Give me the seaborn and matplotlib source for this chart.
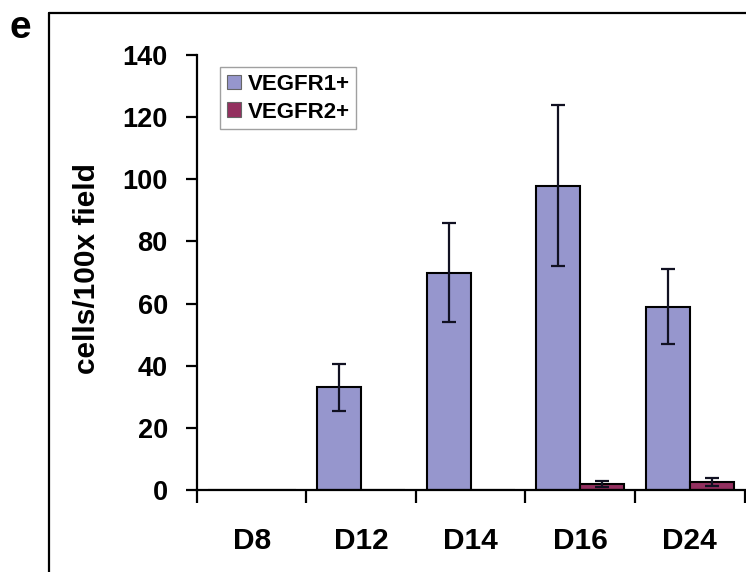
import pandas as pd
import matplotlib.pyplot as plt
import seaborn as sns
from matplotlib.lines import Line2D
from matplotlib.patches import Patch

# 数据
days = ['D8', 'D12', 'D14', 'D16', 'D24']
vegfr1 = [0, 33, 70, 98, 59]
vegfr1_err = [0, 7.7, 16, 26, 12]
vegfr2 = [0, 0, 0, 2.0, 2.7]
vegfr2_err = [0, 0, 0, 0.9, 1.3]
series = ['VEGFR1+', 'VEGFR2+']
colors = ['#9696CD', '#93305F']

df = pd.DataFrame({
    'day': days * 2,
    'value': vegfr1 + vegfr2,
    'marker': [series[0]] * len(days) + [series[1]] * len(days),
})

sns.set_style('white')
plt.rcParams['font.family'] = ['Liberation Sans', 'DejaVu Sans']
plt.rcParams['font.weight'] = 'bold'
plt.rcParams['text.color'] = 'black'
plt.rcParams['xtick.color'] = 'black'
plt.rcParams['ytick.color'] = 'black'

fig = plt.figure(figsize=(7.46, 5.72), dpi=100)
ax = fig.add_axes([0.264, 0.1434, 0.734, 0.7604])

sns.barplot(data=df, x='day', y='value', hue='marker', order=days,
            hue_order=series, palette=colors, saturation=1, errorbar=None,
            edgecolor='black', linewidth=1.5, legend=False, ax=ax)

# 误差线
for cont, vals, errs in zip(ax.containers, [vegfr1, vegfr2], [vegfr1_err, vegfr2_err]):
    for bar, v, e in zip(cont, vals, errs):
        if e > 0:
            ax.errorbar(bar.get_x() + bar.get_width() / 2, v, yerr=e, fmt='none',
                        ecolor='#111122', elinewidth=1.6, capsize=5, capthick=1.6)

ax.set_ylim(0, 140)
ax.set_yticks(range(0, 141, 20))
ax.set_xlim(-0.5, len(days) - 0.5)
ax.set_xlabel('')
ax.set_ylabel('')

sns.despine(ax=ax)
for s in ['left', 'bottom']:
    ax.spines[s].set_linewidth(1.6)
    ax.spines[s].set_color('black')

ax.set_xticks([i - 0.5 for i in range(len(days) + 1)], minor=True)
ax.tick_params(axis='x', which='major', length=0, pad=27, labelsize=21.5, labelcolor='black')
ax.tick_params(axis='x', which='minor', direction='out', length=9, width=1.6, bottom=True)
ax.tick_params(axis='y', direction='out', length=8, width=1.6, pad=13, labelsize=19.5,
               left=True, labelcolor='black')
for lab in ax.get_xticklabels() + ax.get_yticklabels():
    lab.set_fontweight('bold')

handles = [Patch(facecolor=c, edgecolor='#666666', linewidth=0.8) for c in colors]
leg = ax.legend(handles, series, loc='upper left', bbox_to_anchor=(0.042, 0.972),
                borderaxespad=0, fancybox=False, frameon=True, fontsize=16,
                handlelength=0.65, handleheight=0.65, handletextpad=0.3,
                labelspacing=0.3, borderpad=0.3)
leg.get_frame().set_edgecolor('#888888')
leg.get_frame().set_linewidth(1.0)
for t in leg.get_texts():
    t.set_fontweight('bold')
    t.set_color('black')

fig.text(0.117, 0.531, 'cells/100x field', rotation=90, ha='center', va='center',
         fontsize=21.5, fontweight='bold', color='black')
fig.text(0.013, 0.951, 'e', ha='left', va='center', fontsize=28, fontweight='bold',
         color='black')

# 外框
fig.add_artist(Line2D([0.0657, 0.0657], [0.0, 0.977], color='black', lw=1.6))
fig.add_artist(Line2D([0.0657, 1.0], [0.977, 0.977], color='black', lw=1.6))

plt.savefig('out.png', dpi=100)
